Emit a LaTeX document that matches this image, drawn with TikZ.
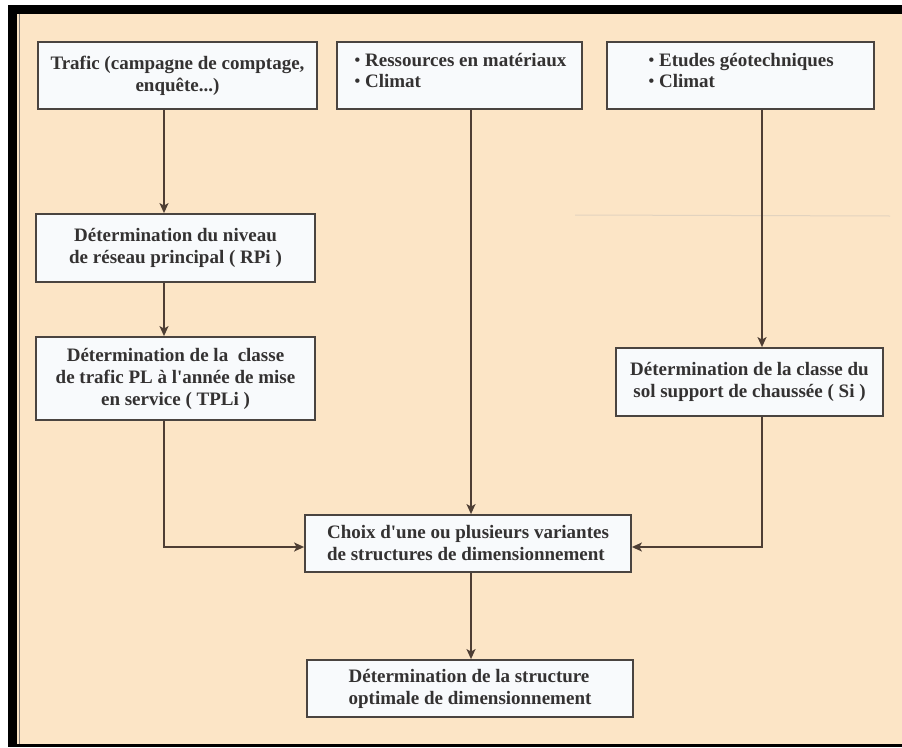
\documentclass[tikz,border=0pt]{standalone}
\usepackage{fontspec}
\setmainfont{Liberation Serif}
\usetikzlibrary{arrows.meta}
\definecolor{bgbeige}{RGB}{252,229,198}
\definecolor{boxfill}{RGB}{248,250,252}
\definecolor{boxline}{RGB}{74,68,64}
\definecolor{arrowc}{RGB}{78,62,52}
\definecolor{txt}{RGB}{52,50,50}
\definecolor{frameline}{RGB}{135,128,122}
\newcommand{\smallbul}{\raisebox{0.9pt}{\scalebox{0.85}{\textbullet}}}
\tikzset{
 box/.style={draw=boxline, line width=1.8pt, fill=boxfill, inner sep=0pt,
   font=\fontsize{19}{22}\selectfont\bfseries, text=txt},
 lbl/.style={inner sep=0pt, font=\fontsize{19}{22}\selectfont\bfseries, text=txt, anchor=base west},
 conn/.style={draw=arrowc, line width=1.6pt, -{Stealth[length=10pt,width=9pt,inset=2.5pt]}},
}
\begin{document}
\begin{tikzpicture}[x=1pt,y=-1pt]
\useasboundingbox (0,0) rectangle (902,747);
\fill[white] (0,0) rectangle (902,747);
\fill[black] (8,5) rectangle (902,747);
\fill[bgbeige] (17,14) rectangle (902,744);
\draw[frameline, line width=1.5pt] (19.5,14) -- (19.5,744);
\draw[gray!60, opacity=0.35, line width=1pt] (575,215) -- (890,216);

\node[box, minimum width=279pt, minimum height=67pt, align=center] (A) at (177.5,75.5)
  {Trafic (campagne de comptage,\\enquête...)};
\node[box, minimum width=245pt, minimum height=67pt] (B) at (459.5,75.5) {};
\node[lbl] (B1) at (354.5,66.5) {\smallbul\ Ressources en matériaux};
\node[lbl] (B2) at (354.5,87) {\smallbul\ Climat};
\node[box, minimum width=267pt, minimum height=67pt] (C) at (740.5,75.5) {};
\node[lbl] (C1) at (648.5,66.5) {\smallbul\ Etudes géotechniques};
\node[lbl] (C2) at (648.5,87) {\smallbul\ Climat};

\node[box, minimum width=279pt, minimum height=68pt, align=center] (RPi) at (175.5,248)
  {Détermination du niveau\\de réseau principal ( RPi )};
\node[box, minimum width=279pt, minimum height=83pt, align=center] (TPLi) at (175.5,378.5)
  {Détermination de la~ classe\\de trafic PL à l\textquotesingle année de mise\\en service ( TPLi )};
\node[box, minimum width=267pt, minimum height=68pt, align=center] (Si) at (749.5,382)
  {Détermination de la classe du\\sol support de chaussée ( Si )};
\node[box, minimum width=326pt, minimum height=57pt, align=left] (Choix) at (468,543.5)
  {Choix d\textquotesingle une ou plusieurs variantes\\de structures de dimensionnement};
\node[box, minimum width=326pt, minimum height=57pt, align=left] (Final) at (470,688.5)
  {Détermination de la structure\\optimale de dimensionnement};

\coordinate (xa) at (164,0);
\coordinate (xb) at (471,0);
\coordinate (xc) at (762,0);
\coordinate (ym) at (0,547);

\draw[conn] (A.south -| xa) -- (RPi.north -| xa);
\draw[conn] (RPi.south -| xa) -- (TPLi.north -| xa);
\draw[conn] (TPLi.south -| xa) |- (Choix.west |- ym);
\draw[conn] (B.south -| xb) -- (Choix.north -| xb);
\draw[conn] (C.south -| xc) -- (Si.north -| xc);
\draw[conn] (Si.south -| xc) |- (Choix.east |- ym);
\draw[conn] (Choix.south -| xb) -- (Final.north -| xb);
\end{tikzpicture}
\end{document}
